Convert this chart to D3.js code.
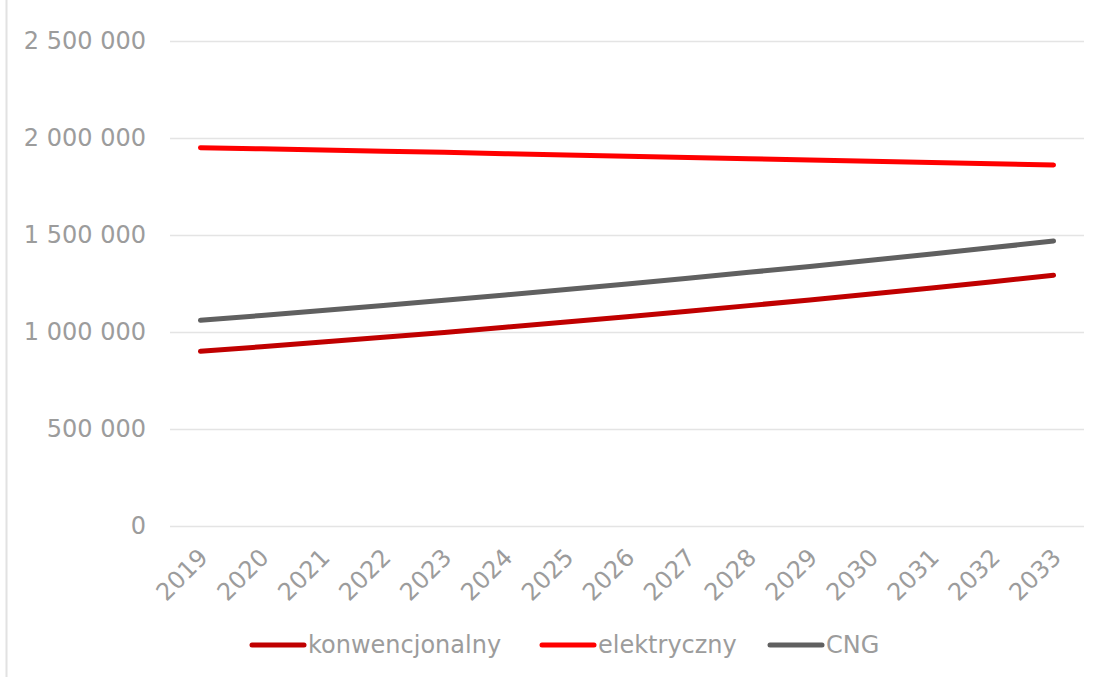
<!DOCTYPE html>
<html lang="pl">
<head>
<meta charset="utf-8">
<script src="https://cdn.jsdelivr.net/npm/d3@7"></script>
<style>
  html, body { margin: 0; padding: 0; background: #fff; }
  svg { display: block; }
  text { font-family: Verdana, "DejaVu Sans", sans-serif; fill: #9C9C9C; }
</style>
</head>
<body>
<svg id="chart" width="1100" height="677"></svg>
<script>
// Lata prognozy
const years = ["2019","2020","2021","2022","2023","2024","2025","2026","2027","2028","2029","2030","2031","2032","2033"];

// Serie danych
const konwencjonalny = [900500, 924000, 948000, 973000, 998000, 1024500, 1051000, 1079000, 1107000, 1136000, 1165500, 1196000, 1227000, 1259500, 1292000];
const elektryczny    = [1950000, 1944000, 1938000, 1932000, 1926000, 1919000, 1912500, 1906000, 1899500, 1893000, 1886500, 1880000, 1873500, 1867000, 1861000];
const cng            = [1060000, 1085000, 1111000, 1137000, 1164000, 1191000, 1219000, 1248000, 1277500, 1307500, 1338000, 1370000, 1402000, 1435000, 1469000];

const seriesNames  = ["konwencjonalny", "elektryczny", "CNG"];
const seriesColors = ["#C00000", "#FF0000", "#606060"];
const seriesValues = [konwencjonalny, elektryczny, cng];

// Podziałka osi Y
const yTicks = [0, 500000, 1000000, 1500000, 2000000, 2500000];

const svg = d3.select("#chart");
const W = 1100, H = 677;
const plot = { left: 170, right: 1084, top: 41, bottom: 526 };

// Ramka wykresu (widoczna lewa krawędź)
svg.append("line")
  .attr("x1", 6.5).attr("x2", 6.5)
  .attr("y1", 0).attr("y2", H)
  .attr("stroke", "#E2E2E2").attr("stroke-width", 2);

const x = d3.scaleBand().domain(years).range([plot.left, plot.right]);
const y = d3.scaleLinear().domain([0, 2500000]).range([plot.bottom, plot.top]);

const fmt = v => d3.format(",")(v).replace(/,/g, "\u00A0");

// Linie siatki
svg.append("g")
  .selectAll("line")
  .data(yTicks)
  .join("line")
  .attr("x1", plot.left).attr("x2", plot.right)
  .attr("y1", d => Math.round(y(d)) + 0.5)
  .attr("y2", d => Math.round(y(d)) + 0.5)
  .attr("stroke", "#E4E4E4").attr("stroke-width", 1.5);

// Oś Y
const yAxis = svg.append("g")
  .attr("transform", `translate(${plot.left},0)`)
  .call(d3.axisLeft(y).tickValues(yTicks).tickFormat(fmt).tickSize(0).tickPadding(24));
yAxis.select(".domain").remove();
yAxis.selectAll("text")
  .style("font-size", "24px")
  .attr("fill", "#9C9C9C");

// Oś X
const xAxis = svg.append("g")
  .attr("transform", `translate(0,${plot.bottom})`)
  .call(d3.axisBottom(x).tickSize(0));
xAxis.select(".domain").remove();
xAxis.selectAll("text")
  .style("font-size", "24px")
  .attr("fill", "#9C9C9C")
  .attr("text-anchor", "end")
  .attr("dy", "0.35em")
  .attr("y", 0)
  .attr("transform", "translate(3,27) rotate(-45)");

// Linie serii
const line = d3.line()
  .x((d, i) => x(years[i]) + x.bandwidth() / 2)
  .y(d => y(d));

svg.append("g")
  .selectAll("path")
  .data(seriesValues)
  .join("path")
  .attr("d", d => line(d))
  .attr("fill", "none")
  .attr("stroke", (d, i) => seriesColors[i])
  .attr("stroke-width", 5)
  .attr("stroke-linecap", "round")
  .attr("stroke-linejoin", "round");

// Legenda
const legendItems = [
  { x: 250, label: seriesNames[0], color: seriesColors[0] },
  { x: 540, label: seriesNames[1], color: seriesColors[1] },
  { x: 768, label: seriesNames[2], color: seriesColors[2] }
];
const legend = svg.append("g").attr("transform", "translate(0,645)");
const li = legend.selectAll("g").data(legendItems).join("g")
  .attr("transform", d => `translate(${d.x},0)`);
li.append("line")
  .attr("x1", 2).attr("x2", 54)
  .attr("y1", 0).attr("y2", 0)
  .attr("stroke", d => d.color)
  .attr("stroke-width", 5)
  .attr("stroke-linecap", "round");
li.append("text")
  .attr("x", 58).attr("y", 0)
  .attr("dy", "0.35em")
  .style("font-size", "24px")
  .text(d => d.label);
</script>
</body>
</html>
